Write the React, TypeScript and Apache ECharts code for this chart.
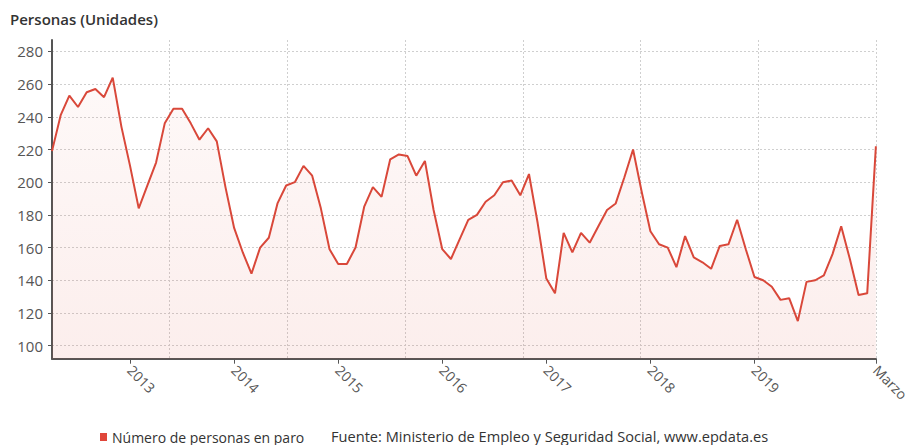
import React, { useEffect, useRef } from "react";
import * as echarts from "echarts";

// Monthly values, April 2012 .. March 2020
const startYear = 2012;
const startMonth = 4; // April
const values: number[] = [
  219, 241, 253, 246, 255, 257, 252, 264, 234, 210, 184, 198,
  212, 236, 245, 245, 236, 226, 233, 225, 197, 172, 157, 144,
  160, 166, 187, 198, 200, 210, 204, 184, 159, 150, 150, 160,
  185, 197, 191, 214, 217, 216, 204, 213, 183, 159, 153, 165,
  177, 180, 188, 192, 200, 201, 192, 205, 175, 141, 132, 169,
  157, 169, 163, 173, 183, 187, 203, 220, 194, 170, 162, 160,
  148, 167, 154, 151, 147, 161, 162, 177, 159, 142, 140, 136,
  128, 129, 115, 139, 140, 143, 156, 173, 153, 131, 132, 222,
];
const yTicks: number[] = [100, 120, 140, 160, 180, 200, 220, 240, 260, 280];
const yearLabels: string[] = ["2013", "2014", "2015", "2016", "2017", "2018", "2019"];
const lastLabel = "Marzo";
const seriesName = "Número de personas en paro";
const sourceText = "Fuente: Ministerio de Empleo y Seguridad Social, www.epdata.es";
const yAxisTitle = "Personas (Unidades)";

const categories: string[] = values.map((_, i) => {
  const m = startMonth - 1 + i;
  const y = startYear + Math.floor(m / 12);
  const mm = (m % 12) + 1;
  return `${y}-${String(mm).padStart(2, "0")}`;
});

const isLabelIdx = (i: number) =>
  i === categories.length - 1 ||
  (categories[i].endsWith("-01") && yearLabels.includes(categories[i].slice(0, 4)));

export default function App() {
  const ref = useRef<HTMLDivElement>(null);
  useEffect(() => {
    document.body.style.margin = "0";
    if (!ref.current) return;
    const chart = echarts.init(ref.current, undefined, { renderer: "svg" });
    const font = "'Open Sans', 'Noto Sans', sans-serif";
    const n = categories.length;
    chart.setOption({
      animation: false,
      textStyle: { fontFamily: font },
      grid: { left: 52, right: 31, top: 40, bottom: 86.3, containLabel: false },
      legend: {
        left: 100,
        top: 429,
        padding: 0,
        icon: "rect",
        itemWidth: 7,
        itemHeight: 8,
        itemGap: 6,
        textStyle: { fontSize: 14, lineHeight: 16, color: "#333", fontFamily: font },
        data: [{ name: seriesName, itemStyle: { color: "#e0463a" } }],
      },
      graphic: [
        {
          type: "text",
          left: 10,
          top: 11,
          style: {
            text: yAxisTitle,
            fontSize: 15,
            fontWeight: 600,
            fill: "#333",
            fontFamily: font,
          },
        },
        {
          type: "text",
          left: 331,
          top: 428,
          style: {
            text: sourceText,
            fontSize: 14.6,
            lineHeight: 16,
            fill: "#333",
            fontFamily: font,
          },
        },
      ],
      xAxis: [
        {
          type: "category",
          data: categories,
          boundaryGap: false,
          axisLine: { lineStyle: { color: "#555", width: 2 } },
          axisTick: {
            show: true,
            length: 5,
            interval: (i: number) => isLabelIdx(i),
            lineStyle: { color: "#555" },
          },
          axisLabel: {
            interval: (i: number) => isLabelIdx(i),
            rotate: -45,
            margin: 9,
            fontSize: 14,
            color: "#555",
            showMaxLabel: true,
            hideOverlap: false,
            formatter: (v: string) =>
              v === categories[n - 1] ? lastLabel : v.slice(0, 4),
          },
          splitLine: { show: false },
        },
        {
          type: "value",
          position: "bottom",
          min: 0,
          max: n - 1,
          interval: (n - 1) / 7,
          axisLine: { show: false },
          axisTick: { show: false },
          axisLabel: { show: false },
          splitLine: {
            show: true,
            lineStyle: { color: "#cfcfcf", type: [2, 2], width: 1 },
          },
        },
      ],
      yAxis: {
        type: "value",
        min: 92,
        max: 287,
        axisLine: { show: true, lineStyle: { color: "#555", width: 2 } },
        axisTick: {
          show: true,
          length: 4,
          customValues: yTicks,
          lineStyle: { color: "#555" },
        },
        axisLabel: {
          customValues: yTicks,
          fontSize: 15,
          color: "#555",
          margin: 9,
        },
        splitLine: {
          show: true,
          lineStyle: { color: "#cfcfcf", type: [2, 2], width: 1 },
        },
      },
      series: [
        {
          name: seriesName,
          type: "line",
          xAxisIndex: 0,
          data: values,
          symbol: "none",
          lineStyle: { color: "#d9483a", width: 2 },
          itemStyle: { color: "#e0463a" },
          areaStyle: {
            color: new echarts.graphic.LinearGradient(0, 0, 0, 1, [
              { offset: 0, color: "rgba(222,80,64,0.05)" },
              { offset: 1, color: "rgba(222,80,64,0.14)" },
            ]),
          },
        },
      ],
    });
    return () => chart.dispose();
  }, []);
  return <div ref={ref} style={{ width: 912, height: 445 }} />;
}
